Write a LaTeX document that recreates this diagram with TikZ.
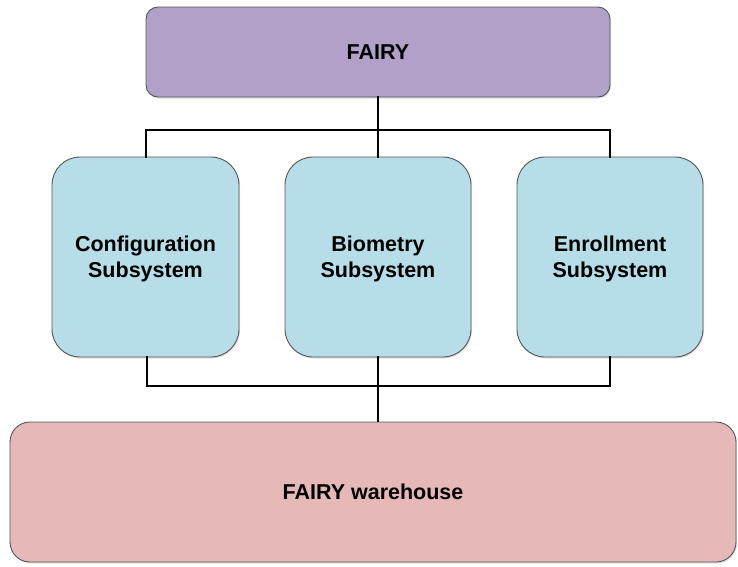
\documentclass[tikz,border=0pt]{standalone}
\usepackage{fontspec}
\setmainfont{Liberation Sans}
\usetikzlibrary{shadows}
\definecolor{topfill}{HTML}{B1A0C7}
\definecolor{subfill}{HTML}{B7DDE8}
\definecolor{basefill}{HTML}{E6B9B8}
\definecolor{edgegray}{HTML}{555555}
\tikzset{
  box/.style={draw=edgegray, line width=0.9pt, align=center, font=\bfseries\fontsize{21.5}{26}\selectfont,
    inner sep=0pt, text depth=0pt, drop shadow={opacity=0.25, shadow xshift=1pt, shadow yshift=-1.5pt}},
  link/.style={line width=2.8pt, line cap=rect}
}
\begin{document}
\begin{tikzpicture}[x=1pt,y=-1pt]
\useasboundingbox (0,0) rectangle (738,566);
% top system box
\node[box, fill=topfill, rounded corners=12pt, minimum width=464pt, minimum height=90pt] (fairy) at (378,52) {FAIRY};
% subsystems
\node[box, fill=subfill, rounded corners=28pt, minimum width=187pt, minimum height=200pt] (conf) at (145.5,257) {Configuration\\Subsystem};
\node[box, fill=subfill, rounded corners=28pt, minimum width=186pt, minimum height=200pt] (bio) at (378,257) {Biometry\\Subsystem};
\node[box, fill=subfill, rounded corners=28pt, minimum width=186pt, minimum height=200pt] (enr) at (610,257) {Enrollment\\Subsystem};
% warehouse
\node[box, fill=basefill, rounded corners=20pt, minimum width=726pt, minimum height=140pt] (ware) at (373,492) {FAIRY warehouse};
% connector bus joints
\coordinate (tb) at (378,130);
\coordinate (bb) at (378,386);
\draw[link] (fairy.south) -- (tb);
\draw[link] (tb) -- (146,130) -- (conf.north -| 146,0);
\draw[link] (tb) -- (610,130) -- (enr.north -| 610,0);
\draw[link] (tb) -- (bio.north);
\draw[link] (conf.south -| 147,0) -- (147,386) -- (bb);
\draw[link] (enr.south -| 610,0) -- (610,386) -- (bb);
\draw[link] (bio.south) -- (bb);
\draw[line width=1.8pt] (bb) -- (bb |- ware.north);
\end{tikzpicture}
\end{document}
